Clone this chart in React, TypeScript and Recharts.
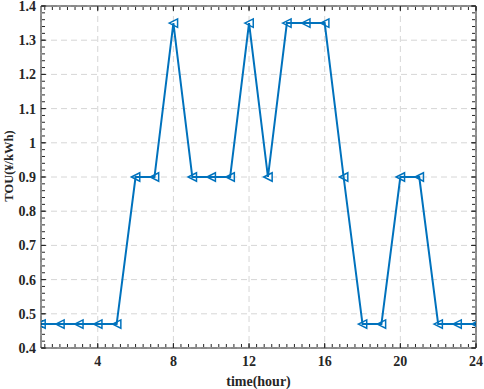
import React from 'react';
import { LineChart, Line, XAxis, YAxis, CartesianGrid } from 'recharts';

const hours = [1, 2, 3, 4, 5, 6, 7, 8, 9, 10, 11, 12, 13, 14, 15, 16, 17, 18, 19, 20, 21, 22, 23, 24];
const touPrice = [0.47, 0.47, 0.47, 0.47, 0.47, 0.9, 0.9, 1.35, 0.9, 0.9, 0.9, 1.35, 0.9, 1.35, 1.35, 1.35, 0.9, 0.47, 0.47, 0.9, 0.9, 0.47, 0.47, 0.47];
const xTicks = [4, 8, 12, 16, 20, 24];
const yTicks = [0.4, 0.5, 0.6, 0.7, 0.8, 0.9, 1, 1.1, 1.2, 1.3, 1.4];
const xMinorTicks = Array.from({ length: 58 }, (_, i) => Math.round((i + 3) * 4) / 10);
const yMinorTicks = Array.from({ length: 51 }, (_, i) => Math.round((40 + 2 * i)) / 100);

const data = hours.map((h, i) => ({ hour: h, tou: touPrice[i] }));

const BLUE = '#0072BD';
const AXIS = '#262626';
const FAMILY = '"Liberation Serif", "Times New Roman", serif';
const textStyle: React.CSSProperties = { fontFamily: FAMILY, fontWeight: 700, fontSize: 14, fill: AXIS };

const TriangleDot = (props: any) => {
  const { cx, cy, index } = props;
  if (cx == null || cy == null) return null;
  const s = 4.2;
  return (
    <polygon
      key={`d${index}`}
      points={`${cx - s},${cy} ${cx + s},${cy - s} ${cx + s},${cy + s}`}
      fill="none"
      stroke={BLUE}
      strokeWidth={1.5}
    />
  );
};

const XTick = (props: any) => {
  const { x, y, payload } = props;
  return (
    <text x={x} y={y} dy="0.71em" textAnchor="middle" style={textStyle}>
      {String(payload.value)}
    </text>
  );
};

const YTick = (props: any) => {
  const { x, y, payload } = props;
  return (
    <text x={x} y={y} dy="0.355em" textAnchor="end" style={textStyle}>
      {String(payload.value)}
    </text>
  );
};

const NoTick = () => <g />;
const tl = { stroke: AXIS, strokeWidth: 1 };

export default function App() {
  return (
    <div style={{ position: 'absolute', left: 0, top: 0, background: '#fff' }}>
      <LineChart width={484} height={389} data={data} margin={{ top: 6, right: 8, left: 0, bottom: 0 }}>
        <CartesianGrid xAxisId="x" yAxisId="y" stroke="#d6d6d6" strokeDasharray="6 4" strokeWidth={1} />
        {/* bottom */}
        <XAxis xAxisId="xmaj" type="number" dataKey="hour" domain={[1, 24]} ticks={xTicks} allowDataOverflow mirror height={1} tick={NoTick} tickSize={5} axisLine={false} tickLine={tl} orientation="bottom" interval={0} />
        <XAxis xAxisId="xmin" type="number" dataKey="hour" domain={[1, 24]} ticks={xMinorTicks} allowDataOverflow mirror height={1} tick={NoTick} tickSize={3} axisLine={false} tickLine={tl} orientation="bottom" interval={0} />
        <XAxis xAxisId="x" type="number" dataKey="hour" domain={[1, 24]} ticks={xTicks} allowDataOverflow height={41} tickSize={0} tickMargin={8} tickLine={false} axisLine={{ stroke: AXIS, strokeWidth: 1 }} tick={XTick} interval={0} label={{ value: 'time(hour)', position: 'insideBottom', offset: 3, style: textStyle }} />
        {/* top */}
        <XAxis xAxisId="tmaj" type="number" dataKey="hour" domain={[1, 24]} ticks={xTicks} allowDataOverflow mirror height={1} tick={NoTick} tickSize={5} axisLine={{ stroke: AXIS, strokeWidth: 1 }} tickLine={tl} orientation="top" interval={0} />
        <XAxis xAxisId="tmin" type="number" dataKey="hour" domain={[1, 24]} ticks={xMinorTicks} allowDataOverflow mirror height={1} tick={NoTick} tickSize={3} axisLine={false} tickLine={tl} orientation="top" interval={0} />
        {/* left */}
        <YAxis yAxisId="ymaj" type="number" domain={[0.4, 1.4]} ticks={yTicks} allowDataOverflow mirror width={1} tick={NoTick} tickSize={5} axisLine={false} tickLine={tl} interval={0} />
        <YAxis yAxisId="ymin" type="number" domain={[0.4, 1.4]} ticks={yMinorTicks} allowDataOverflow mirror width={1} tick={NoTick} tickSize={3} axisLine={false} tickLine={tl} interval={0} />
        <YAxis yAxisId="y" type="number" domain={[0.4, 1.4]} ticks={yTicks} allowDataOverflow width={41} tickSize={0} tickMargin={5} tickLine={false} axisLine={{ stroke: AXIS, strokeWidth: 1 }} tick={YTick} interval={0} label={{ value: 'TOU(¥/kWh)', angle: -90, position: 'center', dx: -12, dy: -11, style: { ...textStyle, fontSize: 12.5 } }} />
        {/* right */}
        <YAxis yAxisId="rmaj" type="number" domain={[0.4, 1.4]} ticks={yTicks} allowDataOverflow mirror width={1} tick={NoTick} tickSize={5} axisLine={{ stroke: AXIS, strokeWidth: 1 }} tickLine={tl} orientation="right" interval={0} />
        <YAxis yAxisId="rmin" type="number" domain={[0.4, 1.4]} ticks={yMinorTicks} allowDataOverflow mirror width={1} tick={NoTick} tickSize={3} axisLine={false} tickLine={tl} orientation="right" interval={0} />
        <Line xAxisId="x" yAxisId="y" type="linear" dataKey="tou" stroke={BLUE} strokeWidth={2} dot={<TriangleDot />} activeDot={false} isAnimationActive={false} />
      </LineChart>
    </div>
  );
}
